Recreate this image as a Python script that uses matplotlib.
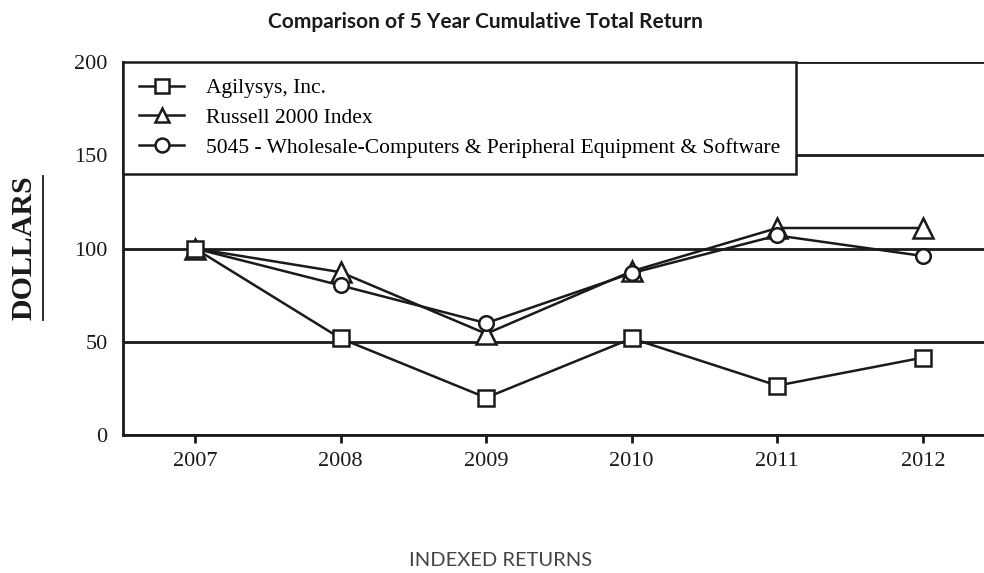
import matplotlib
matplotlib.use("Agg")
import matplotlib.pyplot as plt
from matplotlib.lines import Line2D

years = [2007, 2008, 2009, 2010, 2011, 2012]
agilysys = [100, 51.8, 20.0, 51.8, 26.5, 41.5]
russell = [100, 87.3, 54.3, 87.8, 111.0, 111.0]
wholesale = [100, 80.2, 60.0, 86.8, 107.0, 96.0]
series_labels = ["Agilysys, Inc.", "Russell 2000 Index",
                 "5045 - Wholesale-Computers & Peripheral Equipment & Software"]
yticks = [0, 50, 100, 150, 200]

serif = ["Liberation Serif", "DejaVu Serif"]

fig = plt.figure(figsize=(9.84, 5.73), dpi=100)
ax = fig.add_axes([0.125, 0.2408, 0.875, 0.651])

lw = 1.8
base = dict(color="#1a1a1a", lw=lw, markerfacecolor="white",
            markeredgecolor="#1a1a1a", markeredgewidth=1.8)
l1, = ax.plot(years, agilysys, marker="s", markersize=11, label=series_labels[0], zorder=5, **base)
l2, = ax.plot(years, russell, marker="^", markersize=15, label=series_labels[1], zorder=3, **base)
l3, = ax.plot(years, wholesale, marker="o", markersize=10.5, label=series_labels[2], zorder=3, **base)

ax.set_xlim(2006.505, 2012.42)
ax.set_ylim(0, 200)
ax.set_xticks(years)
ax.set_yticks(yticks)
ax.yaxis.grid(True, color="#1a1a1a", lw=2.0)
ax.set_axisbelow(True)
for s in ["top", "right"]:
    ax.spines[s].set_visible(False)
for s in ["left", "bottom"]:
    ax.spines[s].set_linewidth(2.0)
    ax.spines[s].set_color("#1a1a1a")
ax.tick_params(axis="y", length=0, pad=11, labelsize=16, labelcolor="#1a1a1a")
ax.tick_params(axis="x", length=6, width=2, direction="out", pad=6.5, labelsize=16,
               color="#1a1a1a", labelcolor="#1a1a1a")
for lab in ax.get_xticklabels() + ax.get_yticklabels():
    lab.set_family(serif)

leg = ax.legend(handles=[l1, l2, l3], loc="upper left", bbox_to_anchor=(0, 1),
                borderaxespad=0, fancybox=False, framealpha=1, edgecolor="#1a1a1a",
                prop={"family": serif, "size": 15.5}, handlelength=2.1,
                labelspacing=0.45, borderpad=0.75, handletextpad=1.0)
leg.get_frame().set_linewidth(1.8)
leg.set_zorder(10)
for h in leg.legend_handles:
    h.set_markersize(10)

fig.text(0.493, 0.962, "Comparison of 5 Year Cumulative Total Return",
         ha="center", va="center", family=["Lato", "DejaVu Sans"], weight="bold",
         size=15, color="#1a1a1a")
fig.text(0.509, 0.021, "INDEXED RETURNS", ha="center", va="center",
         family=["Lato", "DejaVu Sans"], weight="normal", size=14.5, color="#444444")

yl = fig.text(0.024, 0.567, "DOLLARS", ha="center", va="center", rotation=90,
              family=serif, weight="bold", size=21.5, color="#1a1a1a")
fig.canvas.draw()
bb = yl.get_window_extent().transformed(fig.transFigure.inverted())
fig.add_artist(Line2D([bb.x1 + 0.006, bb.x1 + 0.006], [bb.y0, bb.y1],
                      transform=fig.transFigure, color="#1a1a1a", lw=1.3))

fig.savefig("out.png", dpi=100)
